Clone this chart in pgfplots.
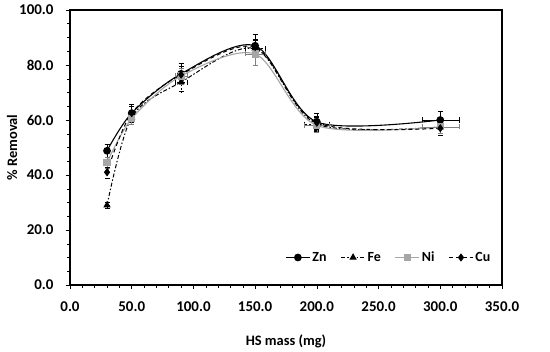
\documentclass[border=0pt]{standalone}
\usepackage{pgfplots}
\pgfplotsset{compat=1.18}
\usepackage{fontspec}
\setmainfont{Carlito}
\begin{document}
\begin{tikzpicture}[x=1bp,y=1bp]
\useasboundingbox (-70bp,-67bp) rectangle (480bp,285bp);
\begin{axis}[
  at={(0,0)}, anchor=south west,
  scale only axis, width=432bp, height=275bp,
  xmin=0, xmax=350, ymin=0, ymax=100,
  xtick={0,50,...,350}, ytick={0,20,...,100},
  minor x tick num=4, minor y tick num=3,
  tick pos=left, tick align=outside,
  major tick length=4bp, minor tick length=3bp,
  axis line style={line width=1.3pt},
  every tick/.style={black, line width=0.5pt},
  /pgf/number format/.cd, fixed, fixed zerofill, precision=1, assume math mode=true,
  /pgfplots/.cd,
  ticklabel style={font=\fontsize{15}{17}\selectfont\bfseries},
  xticklabel style={yshift=-9bp},
  yticklabel style={xshift=-9bp},
  xlabel={HS mass (mg)}, ylabel={\% Removal},
  label style={font=\fontsize{14.5}{17}\selectfont\bfseries},
  xlabel style={at={(axis description cs:0.5,0)}, anchor=center, yshift=-56bp},
  ylabel style={at={(axis description cs:0,0.5)}, anchor=center, yshift=58bp},
  legend style={at={(0.985,0.10)}, anchor=east, draw=none, fill=none,
    legend columns=4, font=\fontsize{14}{16}\selectfont\bfseries,
    /tikz/every even column/.append style={column sep=12bp}},
  legend image code/.code={\draw[#1] (0bp,0bp) -- (24bp,0bp); \draw[#1, solid] plot coordinates {(12bp,0bp)};},
  error bars/error bar style={line width=0.5pt},
  error bars/error mark options={rotate=90, mark size=2.5bp, line width=0.5pt},
]
\addplot[black, line width=1.1pt, smooth, mark=*, mark size=3.3bp,
  error bars/.cd, y dir=both, y explicit, x dir=both, x explicit]
  table[x=x, y=y, x error=ex, y error=ey] {
x y ex ey
30 48.8 0 2.5
50 62.5 0 3.2
90 76.8 0 3.8
150 87.0 0 4.0
200 59.3 0 3.0
300 60.0 15 3.2
};
\addlegendentry{Zn}
\addplot[black, line width=1pt, smooth, dash pattern=on 4bp off 2bp on 1.5bp off 2bp, mark=triangle*, mark size=3.3bp, mark options={solid},
  error bars/.cd, y dir=both, y explicit, x dir=both, x explicit]
  table[x=x, y=y, x error=ex, y error=ey] {
x y ex ey
30 29.0 0 1.0
50 61.0 0 2.5
90 73.8 5 3.5
150 86.0 8 3.0
200 58.5 10 2.5
300 57.5 15 2.5
};
\addlegendentry{Fe}
\addplot[gray!70, line width=1.1pt, smooth, mark=square*, mark size=3bp,
  error bars/.cd, y dir=both, y explicit, x dir=both, x explicit,
  error bar style={gray, line width=0.5pt}]
  table[x=x, y=y, x error=ex, y error=ey] {
x y ex ey
30 44.5 0 2.0
50 60.5 0 2.0
90 76.0 5 3.0
150 84.0 8 4.0
200 58.0 10 2.5
300 57.5 15 2.5
};
\addlegendentry{Ni}
\addplot[black, line width=1pt, smooth, dash pattern=on 4bp off 3bp, mark=diamond*, mark size=3.3bp, mark options={solid},
  error bars/.cd, y dir=both, y explicit]
  table[x=x, y=y, y error=ey] {
x y ey
30 41.0 2.0
50 62.5 2.5
90 76.5 3.0
150 86.5 3.0
200 59.0 2.5
300 57.0 2.5
};
\addlegendentry{Cu}
\end{axis}
\end{tikzpicture}
\end{document}
